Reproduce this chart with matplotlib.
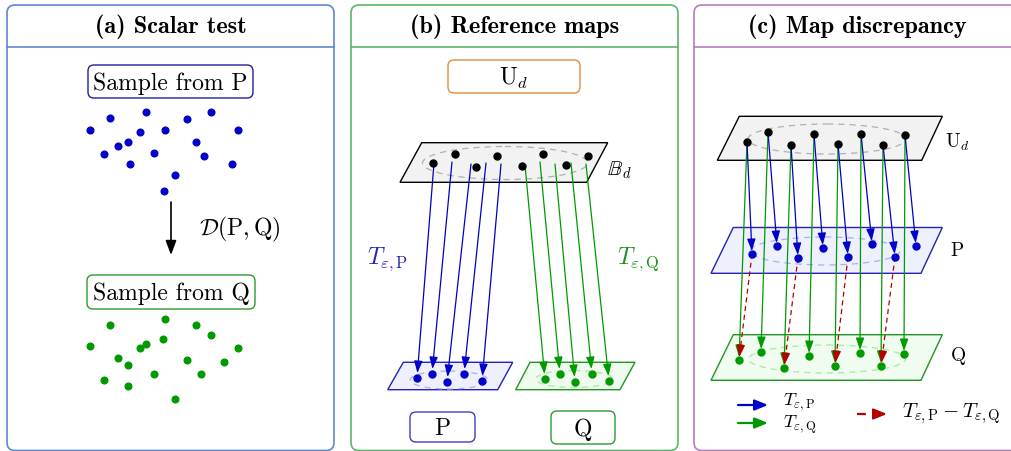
import numpy as np
import matplotlib
matplotlib.use("Agg")
import matplotlib.pyplot as plt
from matplotlib.patches import FancyBboxPatch, FancyArrowPatch, Polygon, Ellipse

plt.rcParams['mathtext.fontset'] = 'cm'

# panel (a): the two samples
p_sample_x = [90, 110, 146, 187, 211, 238, 140, 165, 128, 118, 104, 154, 196, 204, 130, 232, 175, 164]
p_sample_y = [131, 119, 113, 120, 113, 131, 133, 131, 143, 147, 155, 154, 143, 157, 165, 165, 176, 192]
q_sample_x = [110, 165, 196, 211, 90, 146, 140, 163, 238, 118, 128, 187, 224, 154, 201, 104, 128, 175]
q_sample_y = [326, 320, 326, 336, 347, 345, 349, 340, 349, 359, 366, 361, 363, 375, 375, 381, 387, 400]

# panel (b): points on the reference ball, map start points and images
ball_x = [433, 455, 476, 497, 522, 543, 566, 588]
ball_y = [164, 155, 168, 157, 167, 155, 166, 157]
tp_start_x = [434, 452, 471, 486, 501]
tp_start_y = [164, 163, 165, 164, 165]
tq_start_x = [525, 540, 555, 571, 586]
tq_start_y = [166, 163, 165, 164, 165]
img_p_x = [417, 432, 447, 464, 482]
img_p_y = [379, 375, 383, 375, 382]
img_q_x = [545, 560, 575, 592, 609]
img_q_y = [380, 375, 383, 375, 382]

# panel (c): uniform points and their images under both maps
u_x = [747, 768, 791, 814, 838, 861, 883, 905]
u_y = [143, 133, 146, 135, 145, 135, 146, 136]
cp_x = [752, 777, 798, 823, 848, 872, 895, 916]
cp_y = [255, 247, 259, 249, 258, 245, 258, 247]
cq_x = [739, 761, 784, 809, 835, 860, 881, 904]
cq_y = [361, 353, 369, 357, 367, 354, 367, 355]
diff_idx = [0, 2, 4, 6]

BLUE = '#0000c8'
GREEN = '#009a00'
RED = '#b50000'
PX = 0.72  # points per pixel at dpi 100

fig = plt.figure(figsize=(10.12, 4.52), dpi=100)
ax = fig.add_axes([0, 0, 1, 1])
ax.set_xlim(0, 1012)
ax.set_ylim(452, 0)
ax.axis('off')


def arrow(p0, p1, color, lw=1.0, hl=9, hw=7, shrink=0, dashed=False, z=3):
    p0 = np.array(p0, float)
    p1 = np.array(p1, float)
    u = (p1 - p0) / np.hypot(*(p1 - p0))
    tip = p1 - u * shrink
    style = '-|>,head_length=%.3f,head_width=%.3f' % (hl * PX / 6, hw / 2 * PX / 6)
    if dashed:
        base = tip - u * hl
        ax.plot([p0[0], base[0]], [p0[1], base[1]], color=color, lw=lw,
                dashes=(4, 3), zorder=z)
        p0 = tip - u * (hl + 1)
    ax.add_patch(FancyArrowPatch(tuple(p0), tuple(tip), arrowstyle=style,
                                 mutation_scale=6, color=color, lw=lw,
                                 shrinkA=0, shrinkB=0, zorder=z))


def panel(x0, x1, color, title):
    ax.add_patch(FancyBboxPatch((x0, 6), x1 - x0, 445.5,
                                boxstyle='round,pad=0,rounding_size=8',
                                fc='white', ec=color, lw=1.2, zorder=0))
    ax.plot([x0, x1], [48, 48], color=color, lw=1.2, zorder=1)
    ax.text((x0 + x1) / 2, 27, title, ha='center', va='center',
            fontfamily='cmb10', fontsize=17.5)


def label_box(x0, y0, x1, y1, color, text, size=17):
    ax.add_patch(FancyBboxPatch((x0, y0), x1 - x0, y1 - y0,
                                boxstyle='round,pad=0,rounding_size=6',
                                fc='white', ec=color, lw=1.0, zorder=2))
    ax.text((x0 + x1) / 2, (y0 + y1) / 2 + 1, text, ha='center', va='center',
            fontfamily='cmr10', fontsize=size, zorder=3)


def plane(xt0, xt1, yt, xb0, xb1, yb, fc, ec):
    ax.add_patch(Polygon([(xt0, yt), (xt1, yt), (xb1, yb), (xb0, yb)],
                         closed=True, fc=fc, ec=ec, lw=1.0, zorder=1))


def ring(cx, cy, w, h, color):
    ax.add_patch(Ellipse((cx, cy), w, h, fill=False, ec=color, lw=0.9,
                         ls=(0, (5, 4)), zorder=1.5))


# ---- (a) scalar test
panel(7, 334, '#5f86d2', '(a) Scalar test')
label_box(88, 66, 253, 99, '#1f1f99', 'Sample from P')
ax.plot(p_sample_x, p_sample_y, 'o', color=BLUE, ms=4.8, zorder=3)
arrow((171, 203), (171, 256), 'black', lw=1.2, hl=12, hw=9)
ax.text(199, 229, r'$\mathcal{D}(\mathrm{P},\mathrm{Q})$', ha='left',
        va='center', fontsize=17)
label_box(87, 276, 255, 310, '#2c9a2c', 'Sample from Q')
ax.plot(q_sample_x, q_sample_y, 'o', color=GREEN, ms=4.8, zorder=3)

# ---- (b) reference maps
panel(351, 678, '#5db56d', '(b) Reference maps')
label_box(448, 61, 580, 94, '#e08c3c', r'$\mathrm{U}_d$')
plane(421.7, 607.7, 143.7, 400, 586.7, 183.3, '#f2f2f2', 'black')
ring(505, 164, 165, 33, '#b0b0b0')
plane(403.3, 512.7, 363.3, 387.7, 497.7, 390.7, '#eef0fd', '#2323b5')
ring(449, 381, 78, 18, '#a8b0f0')
plane(530, 635, 363.3, 515.7, 620, 390.7, '#eefbee', '#1f961f')
ring(574, 380, 77, 17, '#a8e8a8')
for x0, y0, x1, y1 in zip(tp_start_x, tp_start_y, img_p_x, img_p_y):
    arrow((x0, y0), (x1, y1), BLUE, lw=0.9, hl=10, hw=7, shrink=5)
for x0, y0, x1, y1 in zip(tq_start_x, tq_start_y, img_q_x, img_q_y):
    arrow((x0, y0), (x1, y1), GREEN, lw=0.9, hl=10, hw=7, shrink=5)
ax.plot(ball_x, ball_y, 'o', color='black', ms=5, zorder=4)
ax.plot(img_p_x, img_p_y, 'o', color=BLUE, ms=5, zorder=4)
ax.plot(img_q_x, img_q_y, 'o', color=GREEN, ms=5, zorder=4)
ax.text(607, 170, r'$\mathbb{B}_d$', ha='left', va='center', fontsize=15)
ax.text(388, 259, r'$T_{\varepsilon,\mathrm{P}}$', ha='center', va='center',
        fontsize=17, color='#2424b8')
ax.text(638, 259, r'$T_{\varepsilon,\mathrm{Q}}$', ha='center', va='center',
        fontsize=17, color='#1f8f1f')
label_box(410, 413, 475, 443, '#3c3cc8', 'P')
label_box(551, 412, 615, 445, '#2c9a2c', 'Q')

# ---- (c) map discrepancy
panel(694, 1021, '#b87cc2', '(c) Map discrepancy')
plane(739.3, 942.3, 117.3, 717.3, 921.7, 161.3, '#f2f2f2', 'black')
ring(827, 140, 158, 30, '#b0b0b0')
plane(733.3, 942.3, 228.5, 711, 921, 274.3, '#eef0fd', '#2323b5')
ring(825, 252, 150, 28, '#a8b0f0')
plane(733.3, 942.3, 335.7, 711, 921, 381.3, '#effcef', '#1f961f')
ring(827, 360, 157, 28, '#a8e8a8')
for i in range(len(u_x)):
    arrow((u_x[i], u_y[i]), (cq_x[i], cq_y[i]), GREEN, lw=0.9, hl=10, hw=7, shrink=3)
    arrow((u_x[i], u_y[i]), (cp_x[i], cp_y[i]), BLUE, lw=0.9, hl=10, hw=7, shrink=3)
for i in diff_idx:
    arrow((cp_x[i], cp_y[i]), (cq_x[i], cq_y[i]), RED, lw=0.9, hl=10, hw=7,
          shrink=3, dashed=True, z=3.5)
ax.plot(u_x, u_y, 'o', color='black', ms=5, zorder=4)
ax.plot(cp_x, cp_y, 'o', color=BLUE, ms=5, zorder=4)
ax.plot(cq_x, cq_y, 'o', color=GREEN, ms=5, zorder=4)
ax.text(945, 142, r'$\mathrm{U}_d$', ha='left', va='center', fontsize=14)
ax.text(950, 250, r'$\mathrm{P}$', ha='left', va='center', fontsize=14)
ax.text(950, 356, r'$\mathrm{Q}$', ha='left', va='center', fontsize=14)

# legend for panel (c)
arrow((738, 406), (768, 406), BLUE, lw=1.6, hl=11, hw=9)
arrow((738, 424), (768, 424), GREEN, lw=1.6, hl=11, hw=9)
arrow((857, 415), (887, 415), RED, lw=1.6, hl=11, hw=9, dashed=True)
ax.text(783, 402, r'$T_{\varepsilon,\mathrm{P}}$', ha='left', va='center', fontsize=13)
ax.text(783, 425, r'$T_{\varepsilon,\mathrm{Q}}$', ha='left', va='center', fontsize=13)
ax.text(902, 414, r'$T_{\varepsilon,\mathrm{P}} - T_{\varepsilon,\mathrm{Q}}$',
        ha='left', va='center', fontsize=15)

fig.savefig('out.png', dpi=100)
